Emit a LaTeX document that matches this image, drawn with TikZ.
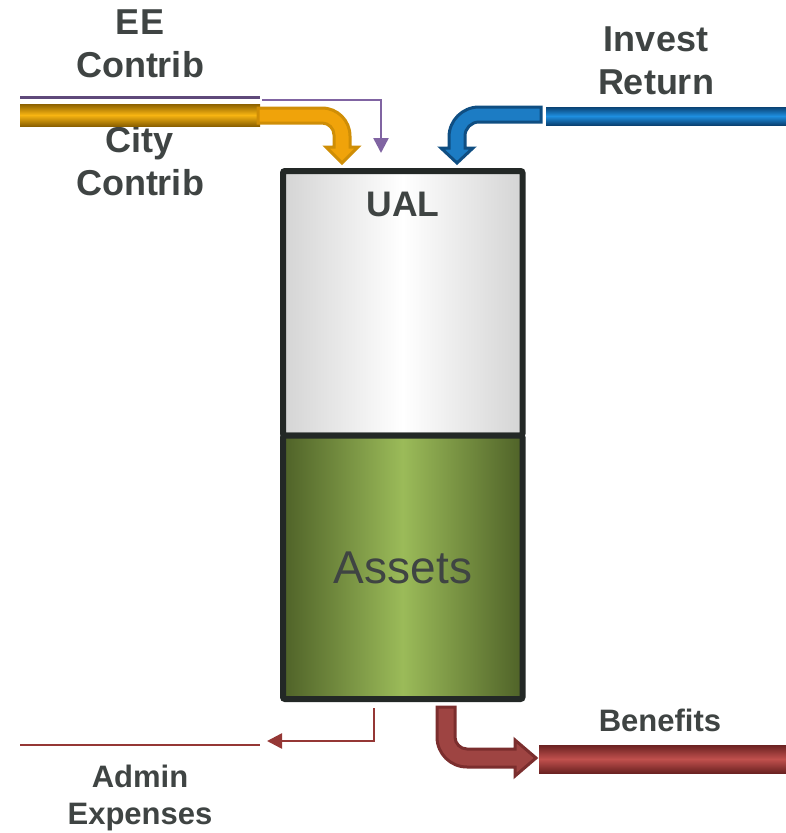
\documentclass[tikz,border=0pt]{standalone}
\usepackage{fontspec}
\setmainfont{Liberation Sans}
\usetikzlibrary{arrows.meta}
\definecolor{tx}{HTML}{3F4443}
\definecolor{tankline}{HTML}{232826}
\definecolor{golddark}{HTML}{8C6100}
\definecolor{goldmid}{HTML}{F8B512}
\definecolor{goldfill}{HTML}{F0A30A}
\definecolor{goldedge}{HTML}{CF8E06}
\definecolor{bluedark}{HTML}{0A4274}
\definecolor{bluemid}{HTML}{1E8FE0}
\definecolor{bluefill}{HTML}{1C7CC4}
\definecolor{blueedge}{HTML}{0F4E82}
\definecolor{reddark}{HTML}{6B2222}
\definecolor{redmid}{HTML}{C0504D}
\definecolor{redfill}{HTML}{9E4442}
\definecolor{rededge}{HTML}{7B2E2E}
\definecolor{thinred}{HTML}{953735}
\definecolor{purpdark}{HTML}{5F497A}
\definecolor{purp}{HTML}{8064A2}
\definecolor{graymid}{HTML}{D4D4D4}
\definecolor{greendark}{HTML}{4F6228}
\definecolor{greenmid}{HTML}{9BBB59}
\begin{document}
\begin{tikzpicture}[x=1pt,y=-1pt,
  tankpart/.style={draw=tankline, line width=6pt, rounded corners=2pt,
    minimum width=239.5pt, inner sep=0pt},
  biglabel/.style={text=tx, align=center, inner sep=0pt,
    font=\fontsize{36}{43}\selectfont\bfseries},
  smalllabel/.style={text=tx, align=center, inner sep=0pt,
    font=\fontsize{31}{37}\selectfont\bfseries},
  thinarrow/.style={line width=2.5pt, -{Triangle[width=15pt,length=15pt]}},
  bentarrow/.style={line width=3pt, line join=miter},
  pipe/.style={line width=0pt}
]
\useasboundingbox (0,0) rectangle (786,833);

% tank
\node[tankpart, minimum height=264.5pt, left color=graymid, right color=graymid,
  middle color=white] (ual) at (402.75,303.25) {};
\node[tankpart, minimum height=263.5pt, left color=greendark, right color=greendark,
  middle color=greenmid] (assets) at (402.75,567.25) {};
\node[text=tx, inner sep=0pt, font=\fontsize{35.5}{40}\selectfont\bfseries]
  (ualtext) at (403,204.5) {UAL};
\node[text=tx, inner sep=0pt, font=\fontsize{46}{52}\selectfont]
  (assetstext) at (403,568) {Assets};

% labels
\node[biglabel] (ee) at (140,44) {EE\\Contrib};
\node[biglabel] (city) at (140,161) {City\\Contrib};
\node[biglabel] (invest) at (656,61) {Invest\\Return};
\node[smalllabel] (benefits) at (660,720.5) {Benefits};
\node[smalllabel] (admin) at (140,797.5) {Admin\\Expenses};

% EE contribution (purple)
\coordinate (eeL) at (20,97.3);
\coordinate (eeR) at (260,97.3);
\coordinate (eeS) at (262,100);
\coordinate (eeT) at (381,153);
\draw[purpdark, line width=2.5pt] (eeL) -- (eeR);
\draw[purp, thinarrow] (eeS) -| (eeT);

% City contribution (gold)
\shade[pipe, top color=golddark, bottom color=golddark, middle color=goldmid]
  (20,104) rectangle (260,126);
\draw[bentarrow, draw=goldedge, fill=goldfill]
  (258,108) -- (322,108) .. controls (337.5,108) and (350,120.5) .. (350,136)
  -- (350,147) -- (358,147) -- (342,163) -- (326,147) -- (334,147) -- (334,135)
  .. controls (334,128.4) and (328.6,123) .. (322,123) -- (258,123) -- cycle;

% Invest return (blue)
\shade[pipe, top color=bluedark, bottom color=bluedark, middle color=bluemid]
  (546,107) rectangle (786,125);
\draw[bentarrow, draw=blueedge, fill=bluefill]
  (541,107) -- (479,107) .. controls (462.4,107) and (449,120.4) .. (449,137)
  -- (449,148) -- (441,148) -- (457,163) -- (473,148) -- (465,148) -- (465,136)
  .. controls (465,128.3) and (471.3,122) .. (479,122) -- (541,122) -- cycle;

% Benefits (red)
\shade[pipe, top color=reddark, bottom color=reddark, middle color=redmid]
  (539,745) rectangle (786,773);
\draw[bentarrow, draw=rededge, fill=redfill]
  (437,707) -- (455,707) -- (455,737) .. controls (455,743.6) and (460.4,749) .. (467,749)
  -- (515,749) -- (515,740) -- (536,758) -- (515,776) -- (515,767) -- (467,767)
  .. controls (450.4,767) and (437,753.6) .. (437,737) -- cycle;

% Admin expenses (thin red)
\coordinate (adS) at (374,708);
\coordinate (adT) at (267,741);
\coordinate (adL) at (20,745);
\coordinate (adR) at (260,745);
\draw[thinred, thinarrow] (adS) |- (adT);
\draw[thinred, line width=2.5pt] (adL) -- (adR);
\end{tikzpicture}
\end{document}
